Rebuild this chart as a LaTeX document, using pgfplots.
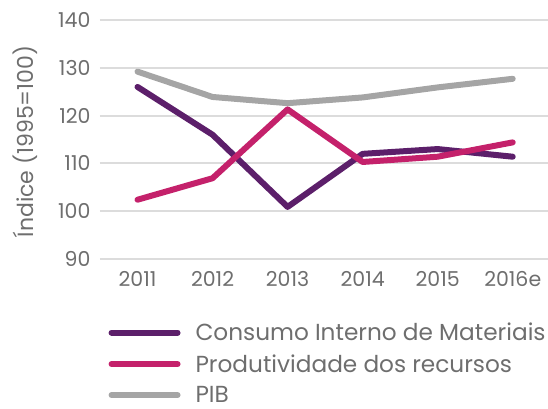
\documentclass[border=0pt]{standalone}
\usepackage{pgfplots}
\pgfplotsset{compat=1.18}
\usepackage{fontspec}
\setmainfont{Poppins}
\definecolor{cpurple}{HTML}{5C1F6A}
\definecolor{cmagenta}{HTML}{C4216B}
\definecolor{cgray}{HTML}{A5A5A5}
\definecolor{ctext}{HTML}{6E6E6E}
\definecolor{cgrid}{HTML}{DCDCDC}
\begin{document}
\begin{tikzpicture}
\useasboundingbox (-100bp,-150bp) rectangle (448bp,259bp);
\begin{axis}[
  at={(0,0)}, anchor=south west,
  scale only axis, width=448bp, height=239bp,
  xmin=-0.5, xmax=5.47, ymin=90, ymax=140,
  axis line style={draw=none},
  xtick={0,1,2,3,4,5},
  xticklabels={2011,2012,2013,2014,2015,2016e},
  ytick={90,100,110,120,130,140},
  major tick length=0pt,
  ymajorgrids, grid style={cgrid, line width=2bp},
  /pgf/number format/assume math mode=true,
  tick label style={font=\fontsize{20.5bp}{24bp}\selectfont, text=ctext},
  xticklabel style={yshift=-9bp},
  yticklabel style={xshift=-6bp},
  ylabel={Índice (1995=100)},
  ylabel style={font=\fontsize{22bp}{26bp}\selectfont, text=ctext,
    at={(axis description cs:-0.167,0.492)}, anchor=center},
  legend style={at={(rel axis cs:0.012,-0.25)}, anchor=north west, draw=none, fill=none,
    font=\fontsize{23.2bp}{27bp}\selectfont, text=ctext, row sep=8.5bp,
    legend cell align=left, column sep=15bp, nodes={inner xsep=0bp}},
  legend image code/.code={\draw[#1, line width=6bp, line cap=round] (0bp,0bp) -- (66bp,0bp);},
  every axis plot/.append style={line width=6bp, line join=round, line cap=round},
]
\addplot[cpurple] coordinates {(0,126.0) (1,116.0) (2,100.9) (3,112.0) (4,113.0) (5,111.4)};
\addlegendentry{Consumo Interno de Materiais}
\addplot[cmagenta] coordinates {(0,102.4) (1,106.9) (2,121.3) (3,110.3) (4,111.4) (5,114.4)};
\addlegendentry{Produtividade dos recursos}
\addplot[cgray] coordinates {(0,129.2) (1,123.9) (2,122.6) (3,123.8) (4,125.9) (5,127.7)};
\addlegendentry{PIB}
\end{axis}
\end{tikzpicture}
\end{document}
